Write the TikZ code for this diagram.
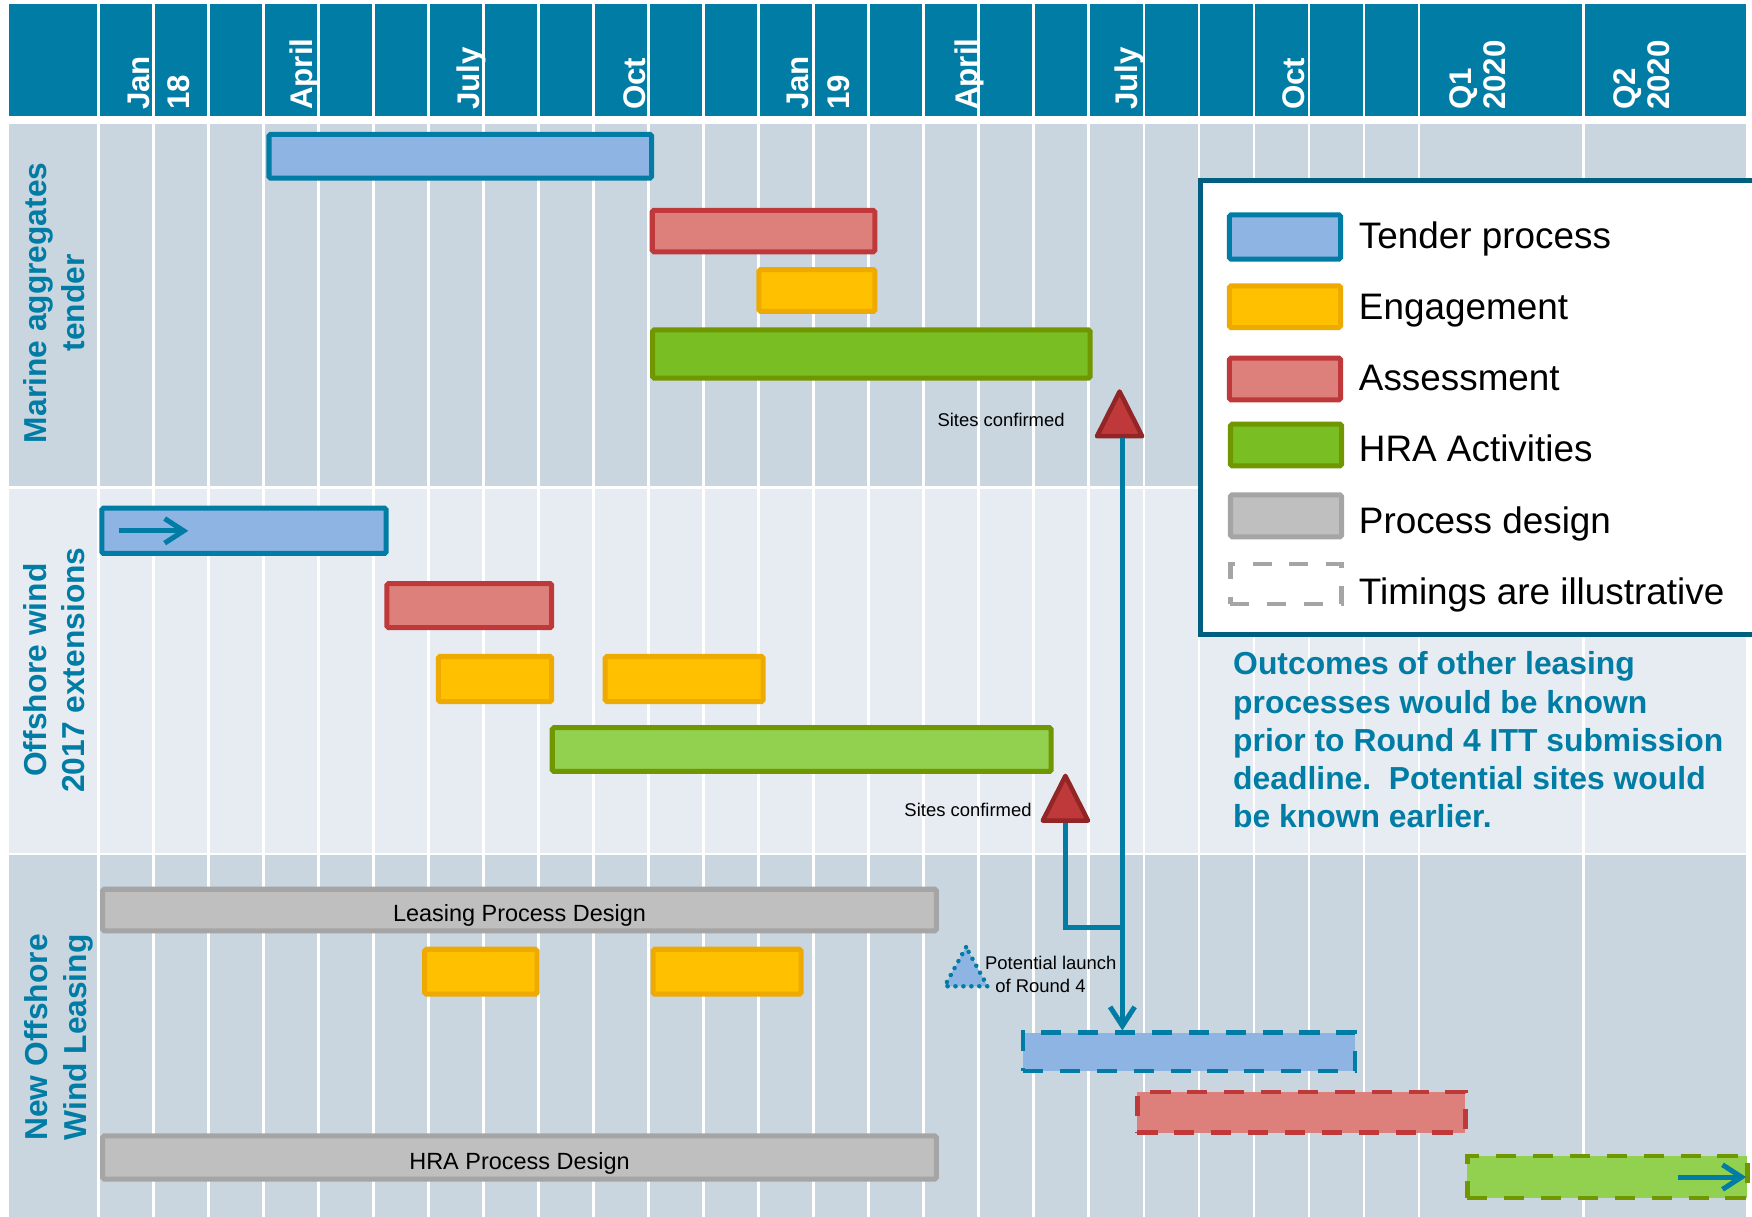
\documentclass[tikz,border=0pt]{standalone}
\usepackage{fontspec}
\setmainfont{Liberation Sans}
\usetikzlibrary{arrows.meta,shapes.geometric}
\definecolor{hdr}{HTML}{007CA5}
\definecolor{bgA}{HTML}{C9D6E0}
\definecolor{bgB}{HTML}{E6ECF1}
\definecolor{lgd}{HTML}{005E7E}
\definecolor{tfill}{HTML}{8DB4E2}
\definecolor{tline}{HTML}{007CA5}
\definecolor{efill}{HTML}{FFC000}
\definecolor{eline}{HTML}{EEAA00}
\definecolor{afill}{HTML}{DD807C}
\definecolor{aline}{HTML}{C0393A}
\definecolor{hfill}{HTML}{79BE23}
\definecolor{hfillL}{HTML}{92D050}
\definecolor{hline}{HTML}{719700}
\definecolor{pfill}{HTML}{BFBFBF}
\definecolor{pline}{HTML}{A5A5A5}
\definecolor{mfill}{HTML}{C0393A}
\definecolor{mline}{HTML}{922525}
\newcommand\myfs[2]{\fontsize{#1}{#2}\selectfont}
% style, name, x1, y1, x2, y2 (outer edges), text
\newcommand\gbar[7]{\node[#1, minimum width={#5-#3-4.5}, minimum height={#6-#4-4.5}] (#2) at ({(#3+#5)/2},{(#4+#6)/2}) {#7};}
\begin{document}
\begin{tikzpicture}[x=1pt,y=-1pt,
  bar/.style={draw, line width=4.5pt, rounded corners=1.5pt, inner sep=0pt},
  tender/.style={bar, fill=tfill, draw=tline},
  engage/.style={bar, fill=efill, draw=eline},
  assess/.style={bar, fill=afill, draw=aline},
  hra/.style={bar, fill=hfill, draw=hline},
  hral/.style={bar, fill=hfillL, draw=hline},
  procd/.style={bar, fill=pfill, draw=pline, font=\myfs{21}{25}},
  proctext/.style={text height=20.5pt, text depth=0pt},
  dashbar/.style={rounded corners=0pt, line width=4pt, dash pattern=on 18pt off 15pt},
  illus/.style={bar, fill=white, draw=pline, line width=4pt, rounded corners=0pt, dash pattern=on 17pt off 16pt},
  legendbox/.style={draw=lgd, fill=white, line width=4.2pt, inner sep=0pt},
  gridl/.style={white, line width=2.5pt},
  hlab/.style={rotate=90, anchor=base west, inner sep=0pt, text=white, font=\myfs{28}{32}\bfseries},
  seclab/.style={rotate=90, anchor=base, inner sep=0pt, text=hdr, font=\myfs{28.4}{34}\bfseries},
  lgtext/.style={anchor=base west, inner sep=0pt, font=\myfs{33}{40}},
  small/.style={inner sep=0pt, font=\myfs{16.5}{20}},
  marker/.style={isosceles triangle, isosceles triangle stretches, shape border rotate=90,
     minimum width=40.5pt, minimum height=40pt, inner sep=0pt, fill=mfill, draw=mline,
     line width=4pt, line join=round},
  dottri/.style={isosceles triangle, isosceles triangle stretches, shape border rotate=90,
     minimum width=38.5pt, minimum height=35pt, inner sep=0pt, fill=tfill, draw=tline,
     line width=4pt, line cap=round, dash pattern=on 0.1pt off 7pt},
  conn/.style={draw=tline, line width=4.5pt},
  tipb/.style={-{Straight Barb[length=17pt,width=22pt]}}
]
\useasboundingbox (0,0) rectangle (1568,1088.3);
\fill[white] (0,0) rectangle (1568,1088.3);
% header
\fill[hdr] (8.5,3.6) rectangle (1563,103.8);
\foreach \i in {0,...,24} \draw[gridl] ({88+49.25*\i},3.6) -- ({88+49.25*\i},103.8);
\draw[gridl] (1417,3.6) -- (1417,103.8);
% sections
\fill[bgA] (8.5,111) rectangle (1563,435);
\fill[bgB] (8.5,437.7) rectangle (1563,763.8);
\fill[bgA] (8.5,765.6) rectangle (1563,1092);
\foreach \i in {0,...,24} \draw[gridl] ({88+49.25*\i},111) -- ({88+49.25*\i},1092);
\draw[gridl] (1417,111) -- (1417,1092);
% header labels
\node[hlab] (h1) at (134,98.5) {Jan};
\node[hlab] (h2) at (169.5,98.5) {18};
\node[hlab] (h3) at (280,98.5) {April};
\node[hlab] (h4) at (429,98.5) {July};
\node[hlab] (h5) at (578,98.5) {Oct};
\node[hlab] (h6) at (724,98.5) {Jan};
\node[hlab] (h7) at (760,98.5) {19};
\node[hlab] (h8) at (875,98.5) {April};
\node[hlab] (h9) at (1018,98.5) {July};
\node[hlab] (h10) at (1167.5,98.5) {Oct};
\node[hlab] (h11) at (1316.8,98.5) {Q1};
\node[hlab] (h12) at (1347.7,98.5) {2020};
\node[hlab] (h13) at (1463.5,98.5) {Q2};
\node[hlab] (h14) at (1494.5,98.5) {2020};
% section labels
\node[seclab] (l1a) at (42,271) {Marine aggregates};
\node[seclab] (l1b) at (76,271) {tender};
\node[seclab] (l2a) at (41.8,599.7) {Offshore wind};
\node[seclab] (l2b) at (76,599.7) {2017 extensions};
\node[seclab] (l3a) at (42.8,928.5) {New Offshore};
\node[seclab] (l3b) at (77,928.5) {Wind Leasing};
% marine aggregates
\gbar{tender}{mt1}{238.5}{118}{585.4}{161.7}{}
\gbar{assess}{ma1}{581.5}{186}{785.3}{227.6}{}
\gbar{engage}{me1}{677}{239}{785.3}{281}{}
\gbar{hra}{mh1}{581.9}{293}{977.8}{340.7}{}
% offshore wind 2017
\gbar{tender}{ot1}{88.9}{452.6}{347.9}{497.6}{}
\gbar{assess}{oa1}{344}{520}{496}{564}{}
\gbar{engage}{oe1}{390}{585.3}{496}{630.1}{}
\gbar{engage}{oe2}{539.4}{585.3}{685.3}{630.1}{}
\gbar{hral}{oh1}{492}{649}{943}{692.7}{}
% new offshore wind leasing
\gbar{procd,proctext}{nl}{89.6}{793.6}{840.3}{835.3}{Leasing Process Design}
\gbar{engage}{ne1}{377.8}{847.3}{482.9}{892}{}
\gbar{engage}{ne2}{582.2}{847.3}{719.2}{892}{}
\gbar{procd,proctext}{nh}{89.6}{1014.4}{840.3}{1057.6}{HRA Process Design}
\gbar{tender,dashbar}{nt}{913.4}{922}{1215}{960.6}{}
\gbar{assess,dashbar}{na}{1015.7}{975}{1313.8}{1016}{}
\gbar{hral,dashbar}{ng}{1311}{1032.3}{1566}{1074.6}{}
% arrows inside bars
\draw[conn,tipb] ([xshift=17.6pt]ot1.west) -- ([xshift=79.6pt]ot1.west);
\draw[conn,tipb] ([xshift=-64pt]ng.east) -- ([xshift=-3pt]ng.east);
% markers
\node[marker, anchor=lower side] (t1) at (1002,392.4) {};
\node[marker, anchor=lower side] (t2) at (953.5,736.4) {};
\node[dottri, anchor=lower side] (t3) at (864.6,884.7) {};
\node[small, anchor=base east] (s1) at (953,381.3) {Sites confirmed};
\node[small, anchor=base east] (s2) at (923.4,730.3) {Sites confirmed};
\node[small, anchor=base] (p1) at (940.4,867.5) {Potential launch};
\node[small, anchor=base] (p2) at (931.2,888.5) {of Round 4};
% connectors
\coordinate (jn) at (1004.5,830.3);
\draw[conn,tipb] ([xshift=2.5pt]t1.lower side) -- ([xshift=2.5pt]t1.lower side |- nt.north);
\draw[conn] (t2.lower side) |- (jn);
% legend
\gbar{legendbox}{lg}{1072.4}{159.6}{1590}{569.8}{}
\gbar{tender}{lg1}{1098}{190}{1202}{234.2}{}
\gbar{engage}{lg2}{1098}{253.6}{1202}{295.4}{}
\gbar{assess}{lg3}{1098}{318.3}{1202}{360.1}{}
\gbar{hra}{lg4}{1099}{377.4}{1203}{419.2}{}
\gbar{procd}{lg5}{1099}{440.6}{1203}{482.7}{}
\gbar{illus}{lg6}{1099}{502.7}{1203}{543}{}
\node[lgtext] (lt1) at (1216,222.3) {Tender process};
\node[lgtext] (lt2) at (1216,285.8) {Engagement};
\node[lgtext] (lt3) at (1216,349.7) {Assessment};
\node[lgtext] (lt4) at (1216,413.2) {HRA Activities};
\node[lgtext] (lt5) at (1216,477.3) {Process design};
\node[lgtext] (lt6) at (1216,540.9) {Timings are illustrative};
% note
\node[anchor=north west, inner sep=0pt, align=left, text=hdr, font=\myfs{28.5}{34.1}\bfseries] (note) at (1103.5,583.2)
  {Outcomes of other leasing\\processes would be known\\prior to Round 4 ITT submission\\deadline.\ \ Potential sites would\\be known earlier.};
\end{tikzpicture}
\end{document}
